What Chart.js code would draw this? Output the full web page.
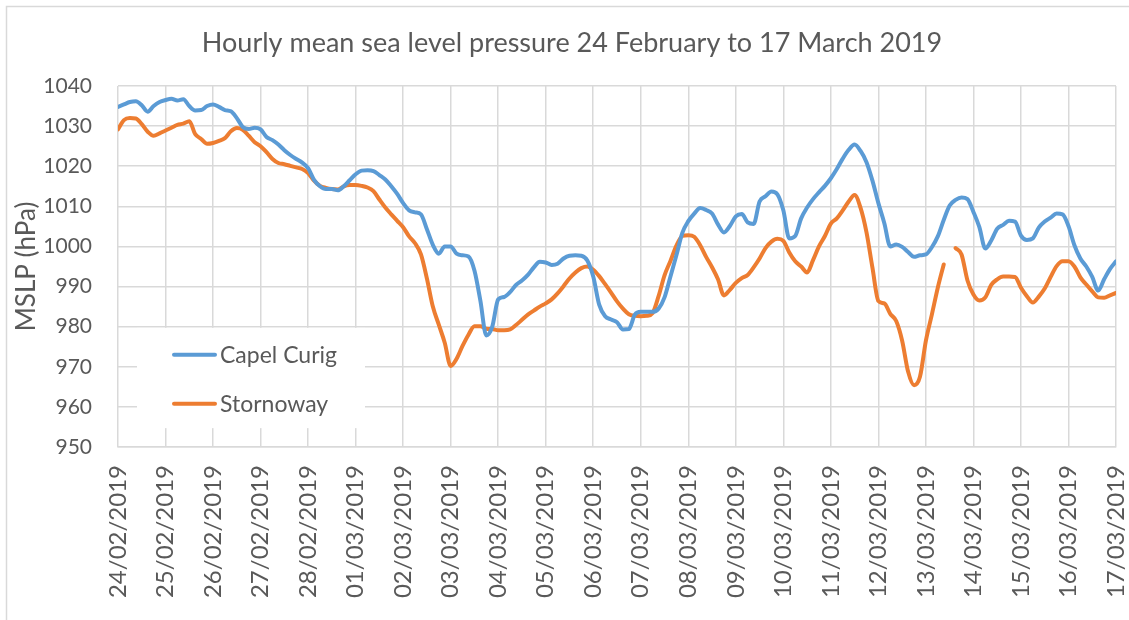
<!DOCTYPE html>
<html>
<head>
<meta charset="utf-8">
<script src="https://cdn.jsdelivr.net/npm/chart.js@4.4.1/dist/chart.umd.min.js"></script>
<style>
  html, body { margin: 0; padding: 0; background: #fff; }
  #wrap { width: 1129px; height: 620px; }
</style>
</head>
<body>
<div id="wrap"><canvas id="mslpChart" width="1129" height="620"></canvas></div>
<script>
// ── Data (3-hourly readings) ──
const dayLabels = [
  "24/02/2019", "25/02/2019", "26/02/2019", "27/02/2019", "28/02/2019",
  "01/03/2019", "02/03/2019", "03/03/2019", "04/03/2019", "05/03/2019",
  "06/03/2019", "07/03/2019", "08/03/2019", "09/03/2019", "10/03/2019",
  "11/03/2019", "12/03/2019", "13/03/2019", "14/03/2019", "15/03/2019",
  "16/03/2019", "17/03/2019"
];

const stepHours = 3;

const capelCurig = [
  1034.8, 1035.4, 1036.0, 1036.2, 1035.2, 1033.6, 1035.0, 1036.0,
  1036.5, 1036.8, 1036.4, 1036.7, 1035.0, 1033.9, 1034.0, 1035.0,
  1035.4, 1034.8, 1034.0, 1033.7, 1032.0, 1029.8, 1029.3, 1029.6,
  1029.2, 1027.3, 1026.5, 1025.4, 1024.0, 1022.8, 1021.8, 1020.9,
  1019.5, 1016.6, 1015.0, 1014.3, 1014.3, 1014.0, 1015.0, 1016.5,
  1018.0, 1018.9, 1019.0, 1018.8, 1017.8, 1016.7, 1015.0, 1013.1,
  1010.8, 1009.0, 1008.5, 1008.0, 1004.3, 1000.4, 998.2, 1000.0,
  1000.0, 998.2, 997.8, 997.5, 994.0, 986.5, 977.8, 980.0,
  986.8, 987.4, 988.6, 990.4, 991.5, 992.9, 994.8, 996.2,
  996.0, 995.4, 995.7, 997.0, 997.7, 997.8, 997.7, 996.5,
  992.5, 985.5, 982.6, 981.8, 981.1, 979.3, 979.4, 983.0,
  983.7, 983.7, 983.7, 984.5, 987.3, 992.5, 997.8, 1003.4,
  1006.3, 1008.2, 1009.6, 1009.1, 1008.2, 1005.5, 1003.5, 1005.1,
  1007.5, 1008.1, 1006.0, 1005.6, 1011.2, 1012.5, 1013.7, 1013.0,
  1009.0, 1002.0, 1002.6, 1007.0, 1009.7, 1011.8, 1013.5, 1015.1,
  1017.0, 1019.3, 1021.9, 1024.1, 1025.4, 1023.8, 1021.0, 1016.4,
  1010.8, 1005.8, 1000.0, 1000.5, 999.9, 998.6, 997.4, 997.8,
  998.0, 999.8, 1002.5, 1006.6, 1010.2, 1011.6, 1012.2, 1011.8,
  1008.6, 1004.8, 999.5, 1001.5, 1004.4, 1005.4, 1006.4, 1006.2,
  1002.7, 1001.6, 1002.0, 1004.7, 1006.2, 1007.2, 1008.2, 1008.0,
  1005.1, 1000.3, 997.0, 995.0, 992.4, 989.0, 991.8, 994.4,
  996.3
];

const stornoway = [
  1029.2, 1031.5, 1032.0, 1031.9, 1030.5, 1028.6, 1027.6, 1028.2,
  1028.9, 1029.6, 1030.3, 1030.6, 1031.2, 1028.0, 1026.8, 1025.6,
  1025.8, 1026.3, 1027.0, 1028.7, 1029.5, 1029.1, 1027.6, 1026.0,
  1025.0, 1023.5, 1021.8, 1020.8, 1020.5, 1020.1, 1019.7, 1019.3,
  1018.3, 1016.4, 1015.1, 1014.6, 1014.3, 1014.2, 1015.0, 1015.3,
  1015.3, 1015.1, 1014.7, 1013.8, 1011.7, 1009.7, 1008.0, 1006.4,
  1004.8, 1002.5, 1000.8, 998.0, 992.0, 985.0, 980.5, 976.0,
  970.2, 972.0, 975.2, 978.0, 980.1, 980.1, 979.5, 979.4,
  979.1, 979.1, 979.3, 980.4, 981.7, 983.0, 984.0, 985.0,
  985.8, 986.8, 988.3, 990.1, 992.0, 993.5, 994.6, 995.0,
  994.2, 992.6, 990.6, 988.5, 986.3, 984.5, 983.1, 982.7,
  982.6, 982.7, 983.4, 987.6, 992.8, 996.4, 1000.2, 1002.6,
  1002.8, 1002.4, 1000.3, 997.4, 994.8, 991.8, 987.8, 989.2,
  990.9, 992.1, 992.9, 994.8, 997.0, 999.6, 1001.2, 1001.9,
  1001.4, 998.5, 996.3, 995.0, 993.5, 996.6, 1000.0, 1002.6,
  1005.7, 1007.0, 1009.0, 1011.2, 1012.8, 1009.6, 1003.5, 994.7,
  986.4, 985.8, 983.2, 981.4, 976.5, 968.8, 965.4, 967.5,
  976.5, 983.0, 989.7, 995.5, null, 999.6, 998.0, 991.5,
  988.0, 986.5, 987.3, 990.4, 991.8, 992.5, 992.5, 992.4,
  989.7, 987.6, 986.0, 987.5, 989.5, 992.4, 995.1, 996.3,
  996.3, 995.0, 992.3, 990.5, 988.8, 987.3, 987.2, 987.8,
  988.4
];

// ── Styling ─────────────────────────────────────────────
const textGrey = "#595959";
const gridGrey = "#d9d9d9";
const blue     = "#5b9bd5";
const orange   = "#ed7d31";
const fontName = "Lato";

const toPoints = (arr) => arr.map((v, i) => ({ x: i * stepHours, y: v }));

// page background + outer frame
const framePlugin = {
  id: "frame",
  beforeDraw(chart) {
    const c = chart.ctx;
    c.save();
    c.fillStyle = "#fff";
    c.fillRect(0, 0, chart.width, chart.height);
    c.strokeStyle = gridGrey;
    c.lineWidth = 1.5;
    c.strokeRect(6.5, 6.5, chart.width + 20, chart.height + 20);
    c.restore();
  }
};

// legend box sitting inside the plot, bottom-left
const innerLegend = {
  id: "innerLegend",
  beforeDatasetsDraw(chart) {
    const c = chart.ctx;
    const x = chart.scales.x;
    const y = chart.scales.y;
    const left = x.left + 19;
    const top = y.getPixelForValue(979.7);
    const bottom = y.getPixelForValue(954.7);
    c.save();
    c.fillStyle = "#fff";
    c.fillRect(left, top, 228, bottom - top);
    c.font = "23px " + fontName;
    c.textBaseline = "middle";
    c.textAlign = "left";
    chart.data.datasets.forEach((ds, i) => {
      const rowY = top + 27 + i * 49;
      c.strokeStyle = ds.borderColor;
      c.lineWidth = 4;
      c.lineCap = "round";
      c.beginPath();
      c.moveTo(left + 37, rowY);
      c.lineTo(left + 78, rowY);
      c.stroke();
      c.fillStyle = textGrey;
      c.fillText(ds.label, left + 83, rowY + 1);
    });
    c.restore();
  }
};

// ── Chart ───────────────────────────────────────────────
const ctx = document.getElementById("mslpChart").getContext("2d");

new Chart(ctx, {
  type: "line",
  data: {
    datasets: [
      {
        label: "Capel Curig",
        data: toPoints(capelCurig),
        borderColor: blue,
        borderWidth: 4,
        pointRadius: 0,
        cubicInterpolationMode: "monotone",
        borderJoinStyle: "round",
        borderCapStyle: "round",
        spanGaps: false
      },
      {
        label: "Stornoway",
        data: toPoints(stornoway),
        borderColor: orange,
        borderWidth: 4,
        pointRadius: 0,
        cubicInterpolationMode: "monotone",
        borderJoinStyle: "round",
        borderCapStyle: "round",
        spanGaps: false
      }
    ]
  },
  options: {
    responsive: false,
    animation: false,
    devicePixelRatio: 1,
    // left padding shifts the full-width title so it centres like the original
    layout: { padding: { top: 0, left: 15, right: 0, bottom: 0 } },
    plugins: {
      legend: { display: false },
      tooltip: { enabled: false },
      title: {
        display: true,
        text: "Hourly mean sea level pressure 24 February to 17 March 2019",
        color: textGrey,
        font: { family: fontName, size: 27, weight: "normal" },
        padding: { top: 27, bottom: 26.6 }
      }
    },
    scales: {
      x: {
        type: "linear",
        min: 0,
        max: (dayLabels.length - 1) * 24,
        grid: { color: gridGrey, lineWidth: 1.5, drawTicks: false },
        border: { color: gridGrey, width: 1.5 },
        ticks: {
          stepSize: 24,
          autoSkip: false,
          minRotation: 90,
          maxRotation: 90,
          padding: 18,
          color: textGrey,
          font: { family: fontName, size: 24 },
          callback: (v) => dayLabels[Math.round(v / 24)]
        },
        afterFit(scale) {
          scale.height = 173;
          scale.paddingLeft = 0;
          scale.paddingRight = 13;   // right margin of the plot
        }
      },
      y: {
        min: 950,
        max: 1040,
        grid: { color: gridGrey, lineWidth: 1.5, drawTicks: false },
        border: { display: false },
        ticks: {
          stepSize: 10,
          padding: 26,
          color: textGrey,
          font: { family: fontName, size: 21 },
          callback: (v) => String(v)
        },
        title: {
          display: true,
          text: "MSLP (hPa)",
          color: textGrey,
          font: { family: fontName, size: 26 },
          padding: { top: -3.6, bottom: 0 }
        },
        afterFit(scale) {
          scale.width = 103;
        }
      }
    }
  },
  plugins: [framePlugin, innerLegend]
});
</script>
</body>
</html>
